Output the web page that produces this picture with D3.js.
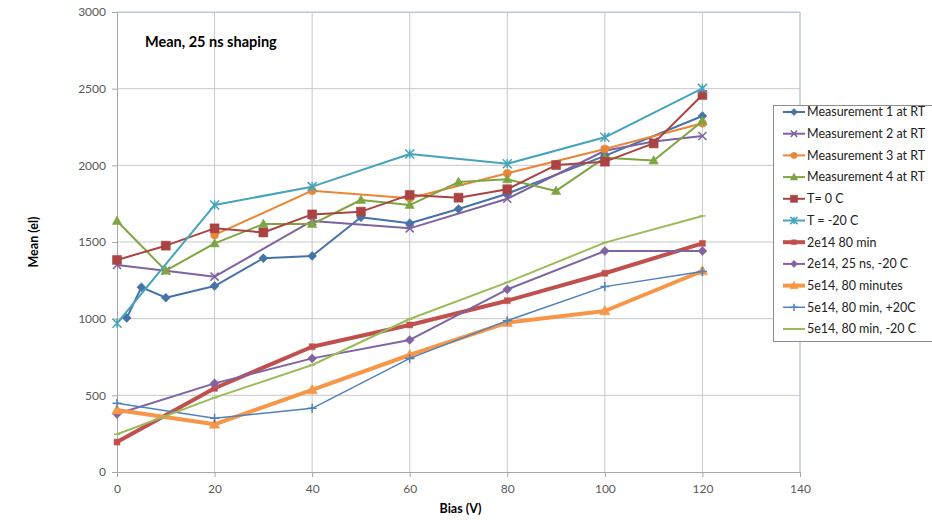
<!DOCTYPE html>
<html>
<head>
<meta charset="utf-8">
<script src="https://cdn.jsdelivr.net/npm/d3@7"></script>
<style>
  body { margin: 0; background: #fff; }
  svg { font-family: "Lato", "Liberation Sans", sans-serif; }
</style>
</head>
<body>
<svg id="chart"></svg>
<script>
// values: [bias, mean]
var meas1 = [[2, 1005], [5, 1205], [10, 1137], [20, 1213], [30, 1394], [40, 1409], [50, 1661], [60, 1622], [70, 1715], [80, 1815], [100, 2062], [120, 2322]];
var meas2 = [[0, 1350], [10, 1312], [20, 1274], [40, 1637], [60, 1589], [80, 1782], [100, 2095], [110, 2155], [120, 2191]];
var meas3 = [[20, 1546], [40, 1835], [60, 1785], [80, 1948], [100, 2107], [120, 2274]];
var meas4 = [[0, 1637], [10, 1313], [20, 1491], [30, 1617], [40, 1617], [50, 1774], [60, 1741], [70, 1891], [80, 1909], [90, 1833], [100, 2050], [110, 2031], [120, 2288]];
var tZero = [[0, 1383], [10, 1476], [20, 1589], [30, 1562], [40, 1680], [50, 1698], [60, 1807], [70, 1789], [80, 1844], [90, 2002], [100, 2024], [110, 2143], [120, 2459]];
var tMinus20 = [[0, 970], [20, 1741], [40, 1861], [60, 2074], [80, 2010], [100, 2183], [120, 2502]];
var f2e14 = [[0, 195], [20, 546], [40, 817], [60, 959], [80, 1117], [100, 1296], [120, 1491]];
var f2e14cold = [[0, 378], [20, 578], [40, 741], [60, 861], [80, 1191], [100, 1441], [120, 1441]];
var f5e14 = [[0, 404], [20, 311], [40, 535], [60, 763], [80, 974], [100, 1050], [120, 1311]];
var f5e14warm = [[0, 448], [20, 350], [40, 415], [60, 741], [80, 987], [100, 1209], [120, 1307]];
var f5e14cold = [[0, 246], [20, 485], [40, 698], [60, 998], [80, 1237], [100, 1496], [120, 1670]];

var seriesNames = ["Measurement 1 at RT", "Measurement 2 at RT", "Measurement 3 at RT", "Measurement 4 at RT",
    "T= 0 C", "T = -20 C", "2e14 80 min", "2e14, 25 ns, -20 C", "5e14, 80 minutes",
    "5e14, 80 min, +20C", "5e14, 80 min, -20 C"];
var seriesData = [meas1, meas2, meas3, meas4, tZero, tMinus20, f2e14, f2e14cold, f5e14, f5e14warm, f5e14cold];

var xTicks = [0, 20, 40, 60, 80, 100, 120, 140];
var yTicks = [0, 500, 1000, 1500, 2000, 2500, 3000];

// look of each series (same order as seriesNames)
var styles = [
    { color: "#4573a7", width: 2, marker: "diamond", size: 4.5 },
    { color: "#7f62a1", width: 2, marker: "x", size: 4 },
    { color: "#eb8639", width: 2, marker: "circle", size: 4 },
    { color: "#7fa543", width: 2, marker: "triangle", size: 5 },
    { color: "#a94442", width: 2, marker: "square", size: 4.5 },
    { color: "#45a3bb", width: 2, marker: "star", size: 4.5 },
    { color: "#c0504d", width: 4, marker: "square", size: 3 },
    { color: "#8064a2", width: 2, marker: "diamond", size: 4.5 },
    { color: "#f79646", width: 4, marker: "triangle", size: 5.5 },
    { color: "#4f81bd", width: 1.5, marker: "plus", size: 4.5 },
    { color: "#9bbb59", width: 2, marker: "dash", size: 3 }
];

var svgWidth = 932, svgHeight = 520;
var margin = { top: 12, left: 117, right: 132, bottom: 48 };
var width = svgWidth - margin.left - margin.right;
var height = svgHeight - margin.top - margin.bottom;

var svg = d3.select("#chart")
    .attr("width", svgWidth)
    .attr("height", svgHeight);

var g = svg.append("g")
    .attr("transform", "translate(" + margin.left + "," + margin.top + ")");

var x = d3.scaleLinear().domain([0, 140]).range([0, width]);
var y = d3.scaleLinear().domain([0, 3000]).range([height, 0]);

// grid
g.append("g").selectAll("line")
    .data(yTicks.slice(1))
    .enter().append("line")
    .attr("x1", 0).attr("x2", width)
    .attr("y1", function(d) { return y(d); })
    .attr("y2", function(d) { return y(d); })
    .attr("stroke", "#c8c8c8");

g.append("g").selectAll("line")
    .data(xTicks.slice(1))
    .enter().append("line")
    .attr("y1", 0).attr("y2", height)
    .attr("x1", function(d) { return x(d); })
    .attr("x2", function(d) { return x(d); })
    .attr("stroke", "#c8c8c8");

// light blue frame on top and right
g.append("path")
    .attr("d", "M0,0.5H" + width + "V" + height)
    .attr("fill", "none")
    .attr("stroke", "#b4c8e4");

// axes
var xAxis = g.append("g")
    .attr("transform", "translate(0," + height + ")")
    .call(d3.axisBottom(x).tickValues(xTicks).tickSize(5).tickPadding(7));
var yAxis = g.append("g")
    .call(d3.axisLeft(y).tickValues(yTicks).tickFormat(d3.format("d")).tickSize(5).tickPadding(6));

[xAxis, yAxis].forEach(function(a) {
    a.select(".domain").attr("stroke", "#a6a6a6");
    a.selectAll(".tick line").attr("stroke", "#a6a6a6");
    a.selectAll(".tick text").attr("fill", "#595959").style("font-size", "12px")
        .style("font-family", "Lato, sans-serif");
});

function markerPath(type, s) {
    if (type == "diamond") return "M0," + (-s) + "L" + s + ",0L0," + s + "L" + (-s) + ",0Z";
    if (type == "square") return "M" + (-s) + "," + (-s) + "H" + s + "V" + s + "H" + (-s) + "Z";
    if (type == "triangle") return "M0," + (-s) + "L" + (s * 0.95) + "," + (s * 0.7) + "H" + (-s * 0.95) + "Z";
    if (type == "circle") return d3.arc()({ innerRadius: 0, outerRadius: s, startAngle: 0, endAngle: 2 * Math.PI });
    if (type == "x") return "M" + (-s) + "," + (-s) + "L" + s + "," + s + "M" + s + "," + (-s) + "L" + (-s) + "," + s;
    if (type == "star") return "M" + (-s) + "," + (-s) + "L" + s + "," + s + "M" + s + "," + (-s) + "L" + (-s) + "," + s + "M0," + (-s) + "V" + s;
    if (type == "plus") return "M" + (-s) + ",0H" + s + "M0," + (-s) + "V" + s;
    if (type == "dash") return "M" + (-s) + ",0H" + s;
    return "";
}
function filled(type) {
    return ["diamond", "square", "triangle", "circle"].indexOf(type) >= 0;
}

var line = d3.line()
    .x(function(d) { return x(d[0]); })
    .y(function(d) { return y(d[1]); });

seriesData.forEach(function(data, i) {
    var st = styles[i];
    g.append("path")
        .datum(data)
        .attr("fill", "none")
        .attr("stroke", st.color)
        .attr("stroke-width", st.width)
        .attr("stroke-linejoin", "round")
        .attr("d", line);

    g.append("g").selectAll("path")
        .data(data)
        .enter().append("path")
        .attr("transform", function(d) { return "translate(" + x(d[0]) + "," + y(d[1]) + ")"; })
        .attr("d", markerPath(st.marker, st.size))
        .attr("fill", filled(st.marker) ? st.color : "none")
        .attr("stroke", st.color)
        .attr("stroke-width", filled(st.marker) ? 0.5 : 1.5);
});

// title inside the plot
svg.append("text")
    .attr("x", 145)
    .attr("y", 47)
    .style("font-size", "14.5px")
    .style("font-weight", "bold")
    .attr("fill", "#000")
    .text("Mean, 25 ns shaping");

// axis titles
svg.append("text")
    .attr("x", margin.left + width / 2 + 2)
    .attr("y", 513)
    .attr("text-anchor", "middle")
    .style("font-size", "12.5px")
    .style("font-weight", "bold")
    .text("Bias (V)");

svg.append("text")
    .attr("transform", "translate(38," + (margin.top + height / 2) + ") rotate(-90)")
    .attr("text-anchor", "middle")
    .style("font-size", "12.5px")
    .style("font-weight", "bold")
    .text("Mean (el)");

// legend
var legend = svg.append("g").attr("transform", "translate(773,105)");
legend.append("rect")
    .attr("x", 0.5).attr("y", 0.5)
    .attr("width", 170).attr("height", 236)
    .attr("fill", "#fff")
    .attr("stroke", "#8c8c8c");

seriesNames.forEach(function(name, i) {
    var st = styles[i];
    var ly = 7 + i * 21.7;
    var item = legend.append("g").attr("transform", "translate(0," + ly + ")");
    item.append("line")
        .attr("x1", 10).attr("x2", 32)
        .attr("y1", 0).attr("y2", 0)
        .attr("stroke", st.color)
        .attr("stroke-width", st.width);
    item.append("path")
        .attr("transform", "translate(21,0)")
        .attr("d", markerPath(st.marker, st.size * 0.8))
        .attr("fill", filled(st.marker) ? st.color : "none")
        .attr("stroke", st.color)
        .attr("stroke-width", filled(st.marker) ? 0.5 : 1.5);
    item.append("text")
        .attr("x", 34)
        .attr("y", 0)
        .attr("dy", "0.35em")
        .style("font-size", "12.5px")
        .attr("fill", "#222")
        .text(name);
});
</script>
</body>
</html>
